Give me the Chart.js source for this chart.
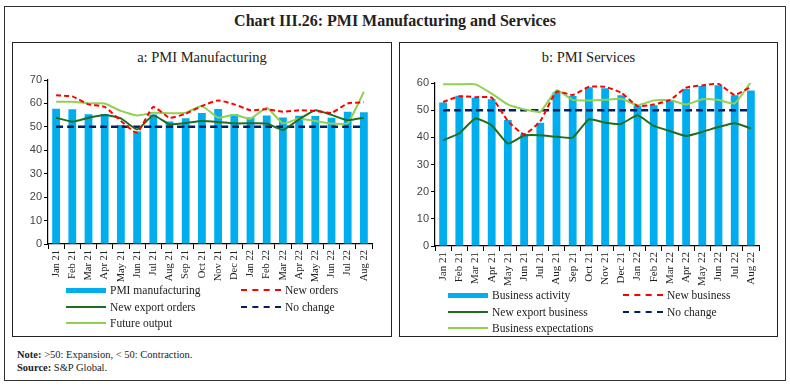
<!DOCTYPE html>
<html>
<head>
<meta charset="utf-8">
<script src="https://cdn.jsdelivr.net/npm/chart.js@4.4.0/dist/chart.umd.min.js"></script>
<style>
    body { margin: 0; background: #fff; font-family: "Liberation Serif", serif; color: #222; }
    #frame { position: absolute; left: 4px; top: 6px; width: 782px; height: 375px; border: 1.5px solid #333; box-sizing: border-box; }
    #mainTitle { position: absolute; left: 0; top: 12px; width: 790px; text-align: center; font-size: 16px; font-weight: bold; }
    .panel { position: absolute; top: 42px; height: 295px; border: 1.5px solid #222; box-sizing: border-box; }
    .panel h2 { position: absolute; left: 0; right: 0; top: 6px; margin: 0; text-align: center; font-size: 14.5px; font-weight: normal; }
    .panel canvas { position: absolute; top: 24px; }
    .legend { position: absolute; display: grid; grid-template-columns: 175px 150px; row-gap: 2px; font-size: 11.5px; }
    .legend div { display: flex; align-items: center; height: 14.5px; white-space: nowrap; }
    .legend span.sw { display: inline-block; width: 40px; margin-right: 4px; }
    #notes { position: absolute; left: 17px; top: 349px; font-size: 10.5px; line-height: 12.5px; }
</style>
</head>
<body>
<div id="frame"></div>
<div id="mainTitle">Chart III.26: PMI Manufacturing and Services</div>

<div class="panel" id="panelA" style="left:12px; width:380px;">
    <h2>a: PMI Manufacturing</h2>
    <canvas id="chartA" width="372" height="222" style="left:1px;"></canvas>
    <div class="legend" id="legendA" style="left:53px; top:240px;"></div>
</div>

<div class="panel" id="panelB" style="left:399px; width:379px;">
    <h2>b: PMI Services</h2>
    <canvas id="chartB" width="372" height="222" style="left:1px;"></canvas>
    <div class="legend" id="legendB" style="left:48px; top:245px;"></div>
</div>

<div id="notes"><b>Note:</b> &gt;50: Expansion, &lt; 50: Contraction.<br><b>Source:</b> S&amp;P Global.</div>

<script>
const months = ['Jan 21', 'Feb 21', 'Mar 21', 'Apr 21', 'May 21', 'Jun 21', 'Jul 21', 'Aug 21', 'Sep 21', 'Oct 21',
    'Nov 21', 'Dec 21', 'Jan 22', 'Feb 22', 'Mar 22', 'Apr 22', 'May 22', 'Jun 22', 'Jul 22', 'Aug 22'];

// a: manufacturing
const pmiManufacturing = [57.7, 57.5, 55.4, 55.5, 50.8, 48.1, 55.3, 52.3, 53.7, 55.9, 57.6, 55.5, 54.0, 54.9, 54.0, 54.7, 54.6, 53.9, 56.4, 56.2];
const newOrders = [63.5, 63.0, 59.6, 58.5, 52.5, 47.5, 58.5, 53.9, 55.6, 58.9, 61.3, 59.6, 57.1, 57.5, 56.5, 57.1, 56.8, 56.0, 60.0, 60.5];
const newExportOrders = [53.9, 52.2, 53.9, 55.1, 53.6, 48.9, 54.9, 51.1, 51.6, 52.5, 52.1, 51.5, 51.5, 51.4, 48.7, 53.2, 57.1, 55.1, 52.8, 53.9];
const futureOutput = [60.7, 60.7, 60.0, 60.0, 56.8, 54.9, 56.0, 55.8, 56.0, 58.9, 53.9, 55.2, 53.5, 58.2, 51.5, 53.5, 52.5, 51.4, 51.6, 65.0];

// b: services
const businessActivity = [52.8, 55.3, 54.6, 54.0, 46.4, 41.2, 45.4, 56.7, 55.2, 58.4, 58.1, 55.5, 51.5, 51.8, 53.6, 57.9, 58.9, 59.2, 55.5, 57.2];
const newBusiness = [53.0, 55.1, 54.8, 54.6, 46.0, 41.1, 46.0, 56.8, 55.6, 58.6, 58.6, 56.4, 51.5, 52.1, 53.7, 58.3, 59.1, 59.7, 55.6, 58.6];
const newExportBusiness = [38.9, 41.5, 46.9, 44.4, 37.7, 40.7, 40.8, 40.2, 39.9, 46.6, 45.4, 45.0, 48.1, 44.2, 42.3, 40.5, 42.0, 43.8, 45.2, 43.3];
const businessExpectations = [59.5, 59.5, 59.5, 56.1, 52.1, 50.3, 49.4, 57.3, 53.8, 53.6, 53.8, 54.2, 51.8, 53.6, 53.7, 52.1, 54.0, 53.7, 52.5, 60.4];

const noChange = [50, 50, 50, 50, 50, 50, 50, 50, 50, 50, 50, 50, 50, 50, 50, 50, 50, 50, 50, 50];

const yTicksA = [0, 10, 20, 30, 40, 50, 60, 70];
const yTicksB = [0, 10, 20, 30, 40, 50, 60];

const BLUE = '#00aeef';
const RED = '#ff0000';
const DARK_GREEN = '#1f6e1f';
const LIGHT_GREEN = '#92d050';
const NAVY = '#002060';

function lineSet(label, data, color, dash, width, order) {
    return {
        type: 'line', label, data,
        borderColor: color, backgroundColor: color,
        borderWidth: width, borderDash: dash, pointRadius: 0,
        tension: 0.15, order: order
    };
}

function buildLegend(el, items) {
    items.forEach(item => {
        const row = document.createElement('div');
        const sw = document.createElement('span');
        sw.className = 'sw';
        if (item.type === 'bar') {
            sw.style.height = '5px';
            sw.style.background = item.backgroundColor;
        } else if (item.borderDash.length) {
            sw.style.borderTop = '2px dashed ' + item.borderColor;
        } else {
            sw.style.borderTop = '2px solid ' + item.borderColor;
        }
        row.appendChild(sw);
        row.appendChild(document.createTextNode(item.label));
        el.appendChild(row);
    });
}

function makeChart(canvasId, legendId, datasets, yMax, yTicks, padTop, xHeight, xFont) {
    const config = {
        type: 'bar',
        data: { labels: months, datasets },
        options: {
            responsive: false,
            animation: false,
            layout: { padding: { top: padTop, right: 14, left: 0, bottom: 0 } },
            plugins: { legend: { display: false }, tooltip: { enabled: false } },
            scales: {
                x: {
                    grid: { display: true, drawOnChartArea: false, offset: true, color: '#000', tickLength: 5 },
                    border: { color: '#000', width: 1.2 },
                    ticks: {
                        minRotation: 90, maxRotation: 90, autoSkip: false, padding: 1,
                        color: '#222', font: { family: 'Liberation Serif', size: xFont }
                    },
                    afterFit: scale => { scale.height = xHeight; }
                },
                y: {
                    min: 0, max: yMax,
                    afterBuildTicks: scale => { scale.ticks = yTicks.map(v => ({ value: v })); },
                    grid: { display: true, drawOnChartArea: false, color: '#000', tickLength: 4 },
                    border: { color: '#000', width: 1.2 },
                    ticks: { padding: 2, color: '#444', font: { family: 'Liberation Sans', size: 11 } },
                    afterFit: scale => { scale.width = 34; }
                }
            }
        }
    };
    new Chart(document.getElementById(canvasId), config);
    buildLegend(document.getElementById(legendId), datasets);
}

makeChart('chartA', 'legendA', [
    { type: 'bar', label: 'PMI manufacturing', data: pmiManufacturing, backgroundColor: BLUE,
      categoryPercentage: 1, barPercentage: 0.48, order: 3 },
    lineSet('New orders', newOrders, RED, [5, 3], 2, 0),
    lineSet('New export orders', newExportOrders, DARK_GREEN, [], 2, 0),
    lineSet('No change', noChange, NAVY, [7, 4], 2.5, 2),
    lineSet('Future output', futureOutput, LIGHT_GREEN, [], 2, 1)
], 70, yTicksA, 13, 45, 10.5);

makeChart('chartB', 'legendB', [
    { type: 'bar', label: 'Business activity', data: businessActivity, backgroundColor: BLUE,
      categoryPercentage: 1, barPercentage: 0.48, order: 3 },
    lineSet('New business', newBusiness, RED, [5, 3], 2, 0),
    lineSet('New export business', newExportBusiness, DARK_GREEN, [], 2, 0),
    lineSet('No change', noChange, NAVY, [7, 4], 2.5, 2),
    lineSet('Business expectations', businessExpectations, LIGHT_GREEN, [], 2, 1)
], 60, yTicksB, 16, 43, 11);
</script>
</body>
</html>
